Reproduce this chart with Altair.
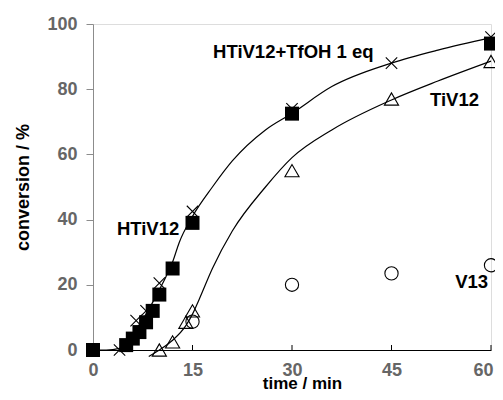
import altair as alt
import pandas as pd

FONT = "Liberation Sans"

# HTiV12 (filled squares)
sq_t = [0, 5, 6, 7, 8, 9, 10, 12, 15, 30, 60]
sq_c = [0, 1.5, 3.5, 5.5, 8.5, 12, 17, 25, 39, 72.5, 94]

# HTiV12+TfOH 1 eq (crosses)
x_t = [0, 4, 6.5, 8, 10, 15, 30, 45, 60]
x_c = [0, 0, 9, 12, 20.5, 42.5, 74, 88, 96]

# TiV12 (open triangles)
tri_t = [10, 12, 14, 15, 30, 45, 60]
tri_c = [0, 2.5, 8.5, 12, 55, 77, 88.5]

# V13 (open circles)
cir_t = [15, 30, 45, 60]
cir_c = [8.7, 20, 23.5, 26]

# fitted curves
fit1_t = [0, 2, 4, 6, 8, 10, 11, 12, 13, 15, 18, 21, 26, 30, 36, 45, 52, 60]
fit1_c = [0, 0, 0.5, 5, 11, 18.5, 22.5, 27, 33, 41, 50, 58, 67.5, 72.6, 80.8, 88, 92, 95.8]
fit2_t = [8.4, 10, 12, 14, 15, 16, 18, 21, 26, 30, 36, 45, 52, 60]
fit2_c = [-2, 0, 3, 7.5, 11, 15.5, 25, 36.5, 50, 59, 67.5, 76.7, 82.5, 88.6]

# annotations
lab_text = ["HTiV12+TfOH 1 eq", "TiV12", "HTiV12", "V13"]
lab_t = [18.1, 50.8, 3.6, 54.6]
lab_c = [91.4, 76.7, 37.1, 20.8]

x_ticks = [0, 15, 30, 45, 60]
y_ticks = [0, 20, 40, 60, 80, 100]

W, H = 398, 326

xs = alt.Scale(domain=[0, 60], nice=False, zero=False)
ys = alt.Scale(domain=[0, 100], nice=False, zero=False)

xenc = alt.X("t:Q", scale=xs, axis=alt.Axis(
    title="time / min", values=x_ticks, ticks=False, grid=False,
    domainColor="black", domainWidth=1, labelPadding=11,
    labelAlign=alt.expr("datum.value == 60 ? 'right' : 'center'"),
    labelOffset=alt.expr("datum.value == 60 ? 2 : 0"),
    labelColor="#666666", labelFontSize=18, labelFontWeight="bold", labelFont=FONT,
    titleFontSize=17, titleFontWeight="bold", titleFont=FONT, titleColor="black",
    titleX=W / 2 + 10, titleY=38, titleBaseline="alphabetic", labelFlush=False))
yenc = alt.Y("c:Q", scale=ys, axis=alt.Axis(
    title="conversion / %", values=y_ticks, grid=False,
    domainColor="#8c8c8c", tickColor="#8c8c8c", tickSize=7, labelPadding=9,
    labelColor="#666666", labelFontSize=18, labelFontWeight="bold", labelFont=FONT,
    titleFontSize=18, titleFontWeight="bold", titleFont=FONT, titleColor="black",
    titlePadding=14))

fit = pd.concat([
    pd.DataFrame({"t": fit1_t, "c": fit1_c, "k": "a"}),
    pd.DataFrame({"t": fit2_t, "c": fit2_c, "k": "b"}),
])
lines = alt.Chart(fit).mark_line(color="black", strokeWidth=1.2, interpolate="monotone").encode(
    x=xenc, y=yenc, detail="k:N")

crosses = alt.Chart(pd.DataFrame({"t": x_t, "c": x_c})).mark_point(
    shape="M-1,-1L1,1M-1,1L1,-1", filled=False, color="black", strokeWidth=1.1, size=130, opacity=1
).encode(x="t:Q", y="c:Q")

squares = alt.Chart(pd.DataFrame({"t": sq_t, "c": sq_c})).mark_point(
    shape="square", filled=True, color="black", size=196, opacity=1
).encode(x="t:Q", y="c:Q")

tris = alt.Chart(pd.DataFrame({"t": tri_t, "c": tri_c})).mark_point(
    shape="triangle-up", filled=False, color="black", strokeWidth=1.1, size=200, opacity=1
).encode(x="t:Q", y="c:Q")

circs = alt.Chart(pd.DataFrame({"t": cir_t, "c": cir_c})).mark_point(
    shape="circle", filled=False, color="black", strokeWidth=1.1, size=175, opacity=1
).encode(x="t:Q", y="c:Q")

labels = alt.Chart(pd.DataFrame({"t": lab_t, "c": lab_c, "s": lab_text})).mark_text(
    align="left", baseline="middle", font=FONT, fontSize=18.5, fontWeight="bold", color="black"
).encode(x="t:Q", y="c:Q", text="s:N")

xtick = alt.Chart(pd.DataFrame({"t": x_ticks[1:]})).mark_rule(color="black", strokeWidth=1).encode(
    x="t:Q", y=alt.value(H), y2=alt.value(H - 5))

chart = alt.layer(lines, xtick, crosses, squares, tris, circs, labels).properties(
    width=W, height=H,
    autosize=alt.AutoSizeParams(type="none"),
    padding={"left": 85, "top": 16, "right": 4, "bottom": 42},
).configure_view(stroke=None).configure(background="white")

chart.save("out.html", embed_options={"renderer": "svg", "actions": False})
